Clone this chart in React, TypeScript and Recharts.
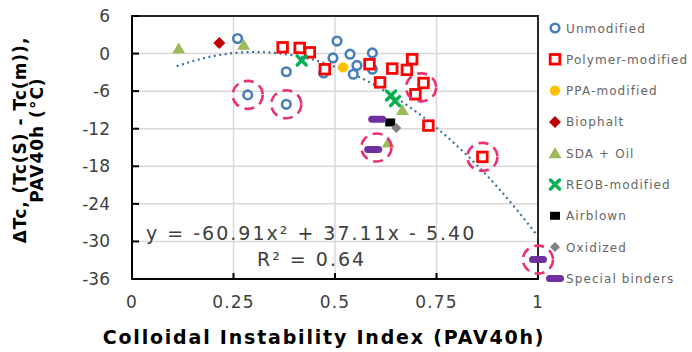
import React from 'react';
import {
  ComposedChart,
  Scatter,
  Line,
  XAxis,
  YAxis,
  CartesianGrid,
  ReferenceArea,
  Customized
} from 'recharts';

const xTicks = [0, 0.25, 0.5, 0.75, 1];
const yTicks = [6, 0, -6, -12, -18, -24, -30, -36];

const unmodified = [
  { x: 0.26, y: 2.4 }, { x: 0.505, y: 2.0 }, { x: 0.495, y: -0.7 }, { x: 0.537, y: -0.1 },
  { x: 0.592, y: 0.1 }, { x: 0.554, y: -1.9 }, { x: 0.472, y: -3.1 }, { x: 0.545, y: -3.3 },
  { x: 0.592, y: -2.5 }, { x: 0.38, y: -2.9 }, { x: 0.285, y: -6.6 }, { x: 0.38, y: -8.1 }
];
const polymer = [
  { x: 0.371, y: 1.0 }, { x: 0.413, y: 0.9 }, { x: 0.438, y: 0.2 }, { x: 0.475, y: -2.5 },
  { x: 0.585, y: -1.7 }, { x: 0.611, y: -4.6 }, { x: 0.641, y: -2.4 }, { x: 0.677, y: -2.6 },
  { x: 0.69, y: -0.9 }, { x: 0.718, y: -4.7 }, { x: 0.698, y: -6.5 }, { x: 0.73, y: -11.5 },
  { x: 0.863, y: -16.5 }
];
const ppa = [{ x: 0.52, y: -2.2 }];
const biophalt = [{ x: 0.215, y: 1.7 }];
const sdaOil = [{ x: 0.115, y: 0.8 }, { x: 0.275, y: 1.4 }, { x: 0.666, y: -9.0 }, { x: 0.631, y: -14.2 }];
const reob = [{ x: 0.418, y: -1.1 }, { x: 0.638, y: -6.7 }, { x: 0.648, y: -7.6 }];
const airblown = [{ x: 0.636, y: -11.0 }];
const oxidized = [{ x: 0.651, y: -11.9 }];
const special = [{ x: 0.604, y: -10.5 }, { x: 0.594, y: -15.3 }, { x: 1.0, y: -32.9 }];
const circled = [
  { x: 0.285, y: -6.6 }, { x: 0.38, y: -8.1 }, { x: 0.712, y: -5.4 },
  { x: 0.602, y: -15.0 }, { x: 0.863, y: -16.5 }, { x: 1.0, y: -32.9 }
];
// trendline
const trend = [
  { x: 0.11, y: -2.0 }, { x: 0.2, y: -0.4 }, { x: 0.3, y: 0.25 }, { x: 0.4, y: -0.3 },
  { x: 0.5, y: -2.1 }, { x: 0.6, y: -5.1 }, { x: 0.7, y: -9.3 }, { x: 0.8, y: -14.7 },
  { x: 0.9, y: -21.3 }, { x: 1.0, y: -29.2 }
];

const equation = 'y = -60.91x² + 37.11x - 5.40';
const rSquared = 'R² = 0.64';

const BLUE = '#4a7ebb';
const RED = '#ff0000';

const circleMark = (cx: number, cy: number) => (
  <circle cx={cx} cy={cy} r={4.3} fill="#fff" stroke={BLUE} strokeWidth={2.6} />
);
const squareMark = (cx: number, cy: number) => (
  <rect x={cx - 4.8} y={cy - 4.8} width={9.6} height={9.6} fill="#fff" stroke={RED} strokeWidth={2.8} />
);
const dotMark = (cx: number, cy: number) => <circle cx={cx} cy={cy} r={5.2} fill="#ffc000" />;
const diamondMark = (cx: number, cy: number) => (
  <path d={`M${cx},${cy - 6}L${cx + 6},${cy}L${cx},${cy + 6}L${cx - 6},${cy}Z`} fill="#c00000" />
);
const triangleMark = (cx: number, cy: number) => (
  <path d={`M${cx},${cy - 6}L${cx + 6.5},${cy + 5}L${cx - 6.5},${cy + 5}Z`} fill="#9bbb59" />
);
const crossMark = (cx: number, cy: number) => (
  <g stroke="#00b050" strokeWidth={3.4} strokeLinecap="round">
    <line x1={cx - 4.5} y1={cy - 4.5} x2={cx + 4.5} y2={cy + 4.5} />
    <line x1={cx - 4.5} y1={cy + 4.5} x2={cx + 4.5} y2={cy - 4.5} />
  </g>
);
const blackMark = (cx: number, cy: number) => (
  <rect x={cx - 5} y={cy - 4} width={10} height={8} fill="#000" />
);
const grayMark = (cx: number, cy: number) => (
  <path d={`M${cx},${cy - 5}L${cx + 5},${cy}L${cx},${cy + 5}L${cx - 5},${cy}Z`} fill="#808080" />
);
const dashMark = (cx: number, cy: number) => (
  <rect x={cx - 9} y={cy - 3.5} width={18} height={7} rx={3.5} fill="#7030a0" />
);

const series = [
  { name: 'Unmodified', data: unmodified, mark: circleMark },
  { name: 'Polymer-modified', data: polymer, mark: squareMark },
  { name: 'PPA-modified', data: ppa, mark: dotMark },
  { name: 'Biophalt', data: biophalt, mark: diamondMark },
  { name: 'SDA + Oil', data: sdaOil, mark: triangleMark },
  { name: 'REOB-modified', data: reob, mark: crossMark },
  { name: 'Airblown', data: airblown, mark: blackMark },
  { name: 'Oxidized', data: oxidized, mark: grayMark },
  { name: 'Special binders', data: special, mark: dashMark }
];

const Overlay = () => (
  <g>
    <text
      transform="translate(28,140) rotate(-90)"
      textAnchor="middle"
      fontFamily="DejaVu Sans"
      fontWeight="bold"
      fontSize={17}
      letterSpacing={1}
      fill="#000"
    >
      <tspan x={0} dy={-2}>ΔTc, (Tc(S) - Tc(m)),</tspan>
      <tspan x={0} dy={17}>PAV40h (°C)</tspan>
    </text>
    <text
      x={324}
      y={344}
      textAnchor="middle"
      fontFamily="DejaVu Sans"
      fontWeight="bold"
      fontSize={19}
      letterSpacing={1.8}
      fill="#000"
    >
      Colloidal Instability Index (PAV40h)
    </text>
    <text x={146} y={240} fontFamily="DejaVu Sans" fontSize={19} letterSpacing={2} fill="#404040">
      {equation}
    </text>
    <text x={257} y={266} fontFamily="DejaVu Sans" fontSize={19} letterSpacing={2} fill="#404040">
      {rSquared}
    </text>
    {series.map((s, i) => {
      const y = 28 + i * 31.3;
      return (
        <g key={s.name}>
          {s.mark(555, y)}
          <text x={566} y={y + 4.5} fontFamily="DejaVu Sans" fontSize={12} letterSpacing={1.1} fill="#666">
            {s.name}
          </text>
        </g>
      );
    })}
  </g>
);

export default function App() {
  return (
    <div style={{ position: 'absolute', left: 0, top: 0, background: '#fff' }}>
      <ComposedChart width={692} height={352} margin={{ top: 16, right: 154, bottom: 0, left: 0 }}>
        <CartesianGrid stroke="#d9d9d9" strokeWidth={1.5} />
        <XAxis
          type="number"
          dataKey="x"
          domain={[0, 1]}
          ticks={xTicks}
          height={73}
          axisLine={{ stroke: '#000', strokeWidth: 2 }}
          tickLine={{ stroke: '#000', strokeWidth: 2 }}
          tickSize={-6}
          tickMargin={23}
          tick={{ fontFamily: 'DejaVu Sans', fontSize: 17, fill: '#404040', letterSpacing: 1.2 }}
        />
        <YAxis
          type="number"
          dataKey="y"
          domain={[-36, 6]}
          ticks={yTicks}
          width={132}
          axisLine={{ stroke: '#000', strokeWidth: 2 }}
          tickLine={{ stroke: '#000', strokeWidth: 2 }}
          tickSize={-7}
          tickMargin={29}
          tick={{ fontFamily: 'DejaVu Sans', fontSize: 17, fill: '#404040' }}
        />
        <ReferenceArea x1={0} x2={1} y1={-36} y2={6} fill="none" stroke="#262626" strokeWidth={2} />
        {series.map((s) => (
          <Scatter
            key={s.name}
            name={s.name}
            data={s.data}
            dataKey="y"
            isAnimationActive={false}
            shape={(p: any) => s.mark(p.cx, p.cy)}
          />
        ))}
        <Line
          data={trend}
          dataKey="y"
          type="monotone"
          dot={false}
          stroke="#41719c"
          strokeWidth={2.2}
          strokeDasharray="2 3.5"
          isAnimationActive={false}
        />
        <Scatter
          data={circled}
          dataKey="y"
          isAnimationActive={false}
          shape={(p: any) => (
            <ellipse cx={p.cx} cy={p.cy} rx={15} ry={14} fill="none" stroke="#ec2f74" strokeWidth={2.6} strokeDasharray="10 6" />
          )}
        />
        <Customized component={Overlay} />
      </ComposedChart>
    </div>
  );
}
